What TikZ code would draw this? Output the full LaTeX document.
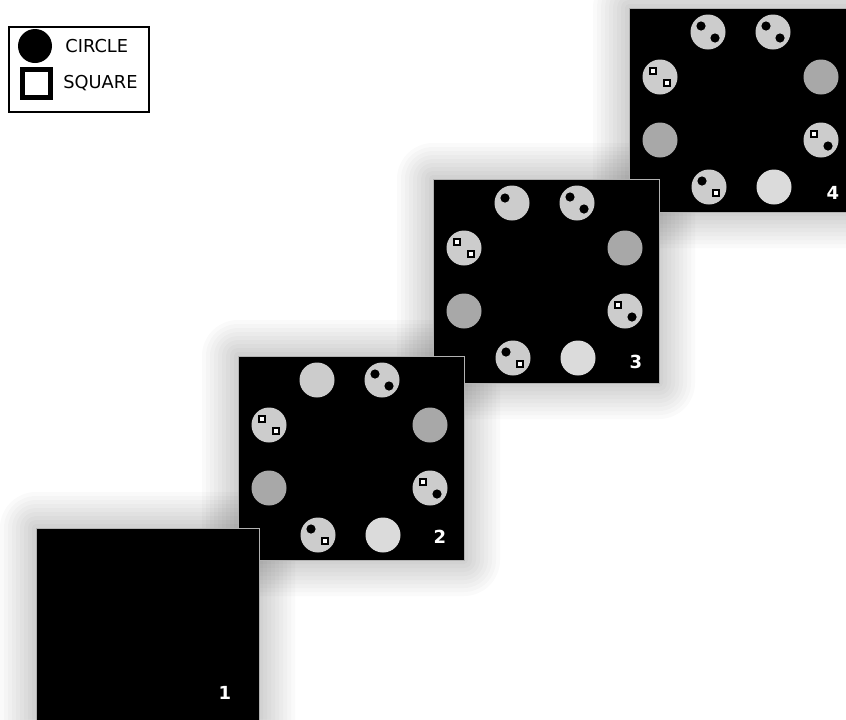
\documentclass[tikz,border=0pt]{standalone}
\usepackage{fontspec}
\setmainfont{DejaVu Sans}
\usepackage{tikz}
\usetikzlibrary{backgrounds}
\definecolor{disclight}{gray}{0.80}
\definecolor{discbright}{gray}{0.86}
\definecolor{discdark}{gray}{0.66}
\definecolor{panelrim}{gray}{0.7}
% eight discs round the centre of a slice
\newcommand{\discring}[1]{%
  \foreach \pos/\px/\py/\tone in {tl/79/24/disclight,tr/144/24/disclight,ru/192/69/discdark,rl/192/132/disclight,br/145/179/discbright,bl/80/179/disclight,ll/31/132/discdark,lu/31/69/disclight}
    \node[disc, fill=\tone] (#1\pos) at ([shift={(\px,\py)}]#1.north west) {};%
}
\newcommand{\twodots}[1]{\node[dotmark] (#1a) at ([shift={(-7,-6)}]#1) {}; \node[dotmark] (#1b) at ([shift={(7,6)}]#1) {};}
\newcommand{\twosquares}[1]{\node[sqmark] (#1a) at ([shift={(-7,-6)}]#1) {}; \node[sqmark] (#1b) at ([shift={(7,6)}]#1) {};}
\newcommand{\squaredot}[1]{\node[sqmark] (#1a) at ([shift={(-7,-6)}]#1) {}; \node[dotmark] (#1b) at ([shift={(7,6)}]#1) {};}
\newcommand{\dotsquare}[1]{\node[dotmark] (#1a) at ([shift={(-7,-6)}]#1) {}; \node[sqmark] (#1b) at ([shift={(7,6)}]#1) {};}

\begin{document}
\begin{tikzpicture}[
  x=0.5pt, y=-0.5pt,
  slice/.style={fill=black, draw=panelrim, line width=0.5pt, minimum width=113pt, minimum height=102pt, anchor=north west, inner sep=0pt, outer sep=0pt},
  disc/.style={circle, inner sep=0pt, minimum size=17.5pt},
  dotmark/.style={circle, fill=black, inner sep=0pt, minimum size=4.6pt},
  sqmark/.style={rectangle, draw=black, fill=white, line width=1pt, inner sep=0pt, minimum size=3.2pt},
  num/.style={text=white, font=\bfseries\fontsize{9}{10}\selectfont, inner sep=0pt},
  keytext/.style={font=\fontsize{8.9}{10}\selectfont, inner sep=0pt, anchor=west},
  haze/.style={black, opacity=0.02}
]
\useasboundingbox (0,0) rectangle (846,719);

% legend
\node[draw, line width=1pt, minimum width=70pt, minimum height=42.5pt, anchor=north west, inner sep=0pt] (key) at (8,26) {};
\node[circle, fill=black, inner sep=0pt, minimum size=17pt] (keydisc) at (35,46) {};
\node[rectangle, draw=black, line width=2.5pt, inner sep=0pt, minimum size=14pt] (keysq) at (36,83) {};
\node[keytext] (keycircle) at (65,46) {CIRCLE};
\node[keytext] (keysquare) at (63,83) {SQUARE};

% slice 4 (back)
\node[slice] (s4) at (629,8) {};
\discring{s4}
\twodots{s4tl} \twodots{s4tr} \squaredot{s4rl} \dotsquare{s4bl} \twosquares{s4lu}
\node[num] (n4) at (833,193) {4};

% slice 3
\node[slice] (s3) at (433,179) {};
\discring{s3}
\node[dotmark] (s3tla) at ([shift={(-7,-5)}]s3tl) {};
\twodots{s3tr} \squaredot{s3rl} \dotsquare{s3bl} \twosquares{s3lu}
\node[num] (n3) at (636,362) {3};

% slice 2
\node[slice] (s2) at (238,356) {};
\discring{s2}
\twodots{s2tr} \squaredot{s2rl} \dotsquare{s2bl} \twosquares{s2lu}
\node[num] (n2) at (440,537) {2};

% slice 1 (front, empty)
\node[slice, minimum width=111.5pt, minimum height=106pt] (s1) at (36,528) {};
\node[num] (n1) at (225,693) {1};

% soft shadows round the slices
\begin{scope}[on background layer]
  \fill[white] (0,0) rectangle (846,719);
  \foreach \s in {s1,s2,s3,s4}
    \foreach \k in {1,...,9}
      \fill[haze, rounded corners=\k*2pt] ([shift={(-4*\k,-4*\k)}]\s.north west) rectangle ([shift={(4*\k,4*\k)}]\s.south east);
\end{scope}
\end{tikzpicture}
\end{document}
